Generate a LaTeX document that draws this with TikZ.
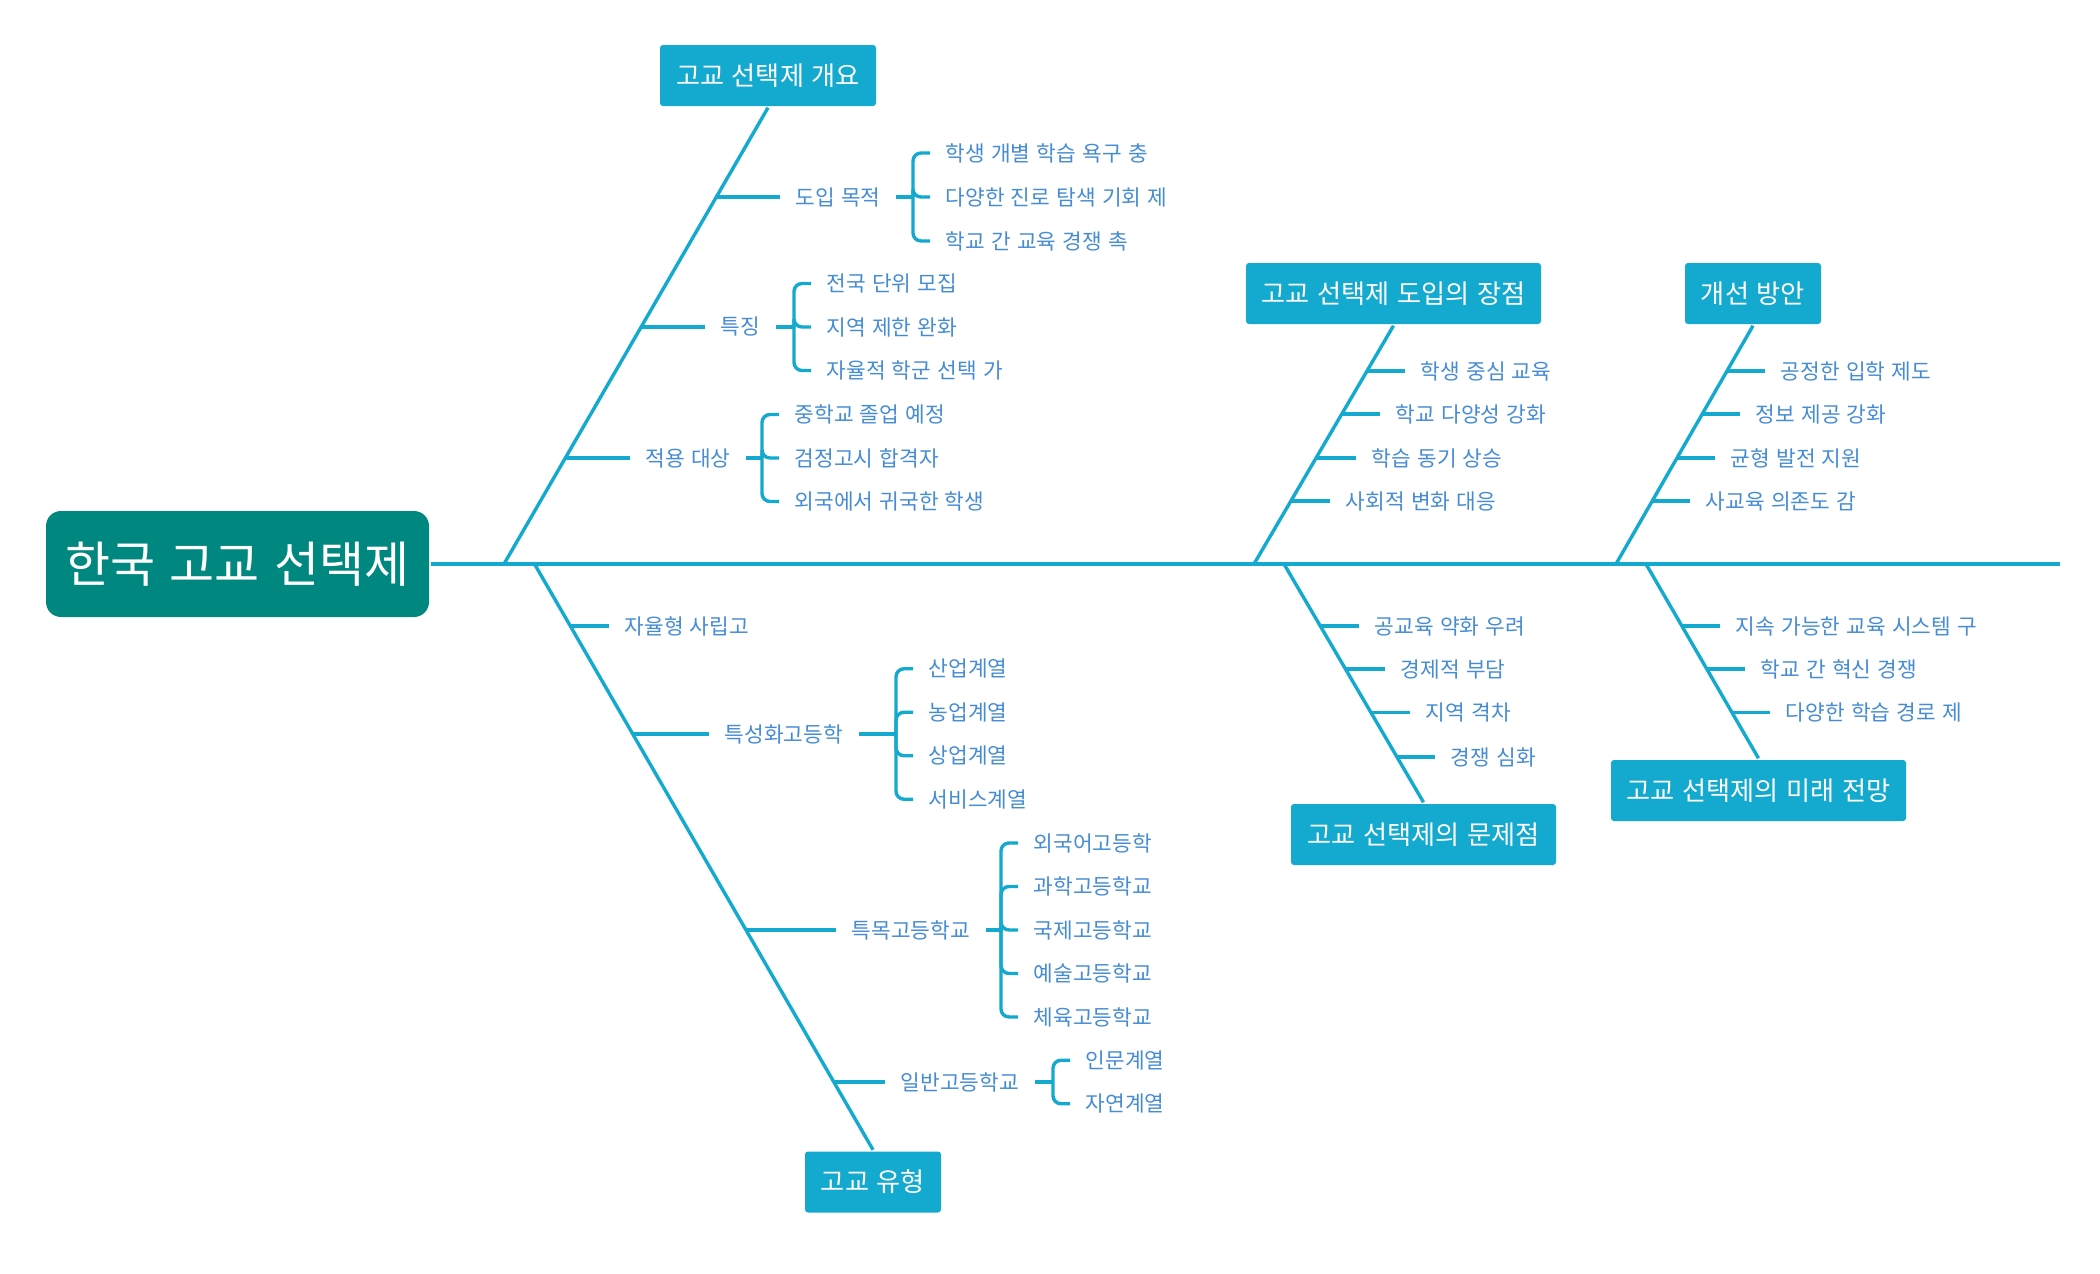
\documentclass[tikz,border=0pt]{standalone}
\usepackage{fontspec}
\setmainfont[WordSpace=1.3]{Noto Sans CJK KR}
\usetikzlibrary{positioning}

\definecolor{rootteal}{RGB}{0,136,128}
\definecolor{boneblue}{RGB}{20,169,206}
\definecolor{leafblue}{RGB}{70,140,212}

\tikzset{every picture/.style={line width=1.7pt}}
\tikzset{
  rootbox/.style={fill=rootteal, text=white, rounded corners=7.5pt, minimum width=191.5pt, minimum height=53pt, inner sep=0pt, font=\fontsize{24.5}{29}\selectfont},
  catbox/.style={fill=boneblue, text=white, rounded corners=1.5pt, minimum height=30.5pt, inner sep=0pt, font=\fontsize{13.1}{15}\selectfont},
  leaf/.style={text=leafblue, anchor=west, inner xsep=7pt, inner ysep=2pt, font=\fontsize{10.7}{12}\selectfont},
  bone/.style={draw=boneblue},
  brace/.style={draw=boneblue, rounded corners=4pt},
}

\begin{document}
\begin{tikzpicture}[x=0.5pt,y=0.5pt,yscale=-1]
	\useasboundingbox (0,0) rectangle (2100,1274);

	%Shape: Root
	\node[rootbox] (root) at (237.5,564) {한국 고교 선택제};
	\coordinate (tail) at (2060,564);
	%Straight Lines: spine
	\draw[bone] (root.east) -- (tail);

	%Shape: category boxes
	\node[catbox, minimum width=108pt] (gaeyo) at (768,75.5) {고교 선택제 개요};
	\node[catbox, minimum width=147.5pt] (jangjeom) at (1393.5,293.5) {고교 선택제 도입의 장점};
	\node[catbox, minimum width=68pt] (gaeseon) at (1753,293.5) {개선 방안};
	\node[catbox, minimum width=68pt] (yuhyeong) at (873,1182) {고교 유형};
	\node[catbox, minimum width=132.5pt] (munje) at (1423.5,834.5) {고교 선택제의 문제점};
	\node[catbox, minimum width=147.5pt] (jeonmang) at (1758.5,790.5) {고교 선택제의 미래 전망};

	%Straight Lines: bones
	\coordinate (s1) at (504,564);
	\coordinate (s2) at (1254,564);
	\coordinate (s3) at (1616,564);
	\coordinate (s4) at (534.5,564);
	\coordinate (s5) at (1284,564);
	\coordinate (s6) at (1646,564);
	\draw[bone] (s1) -- (gaeyo.south);
	\draw[bone] (s2) -- (jangjeom.south);
	\draw[bone] (s3) -- (gaeseon.south);
	\draw[bone] (s4) -- (yuhyeong.north);
	\draw[bone] (s5) -- (munje.north);
	\draw[bone] (s6) -- (jeonmang.north);

	% 고교 선택제 개요
	\coordinate (b1a) at (714.7,197);
	\coordinate (b1b) at (640,327);
	\coordinate (b1c) at (565,458);
	\node[leaf] (mokjeok) at (780,197) {도입 목적};
	\node[leaf] (teukjing) at (705,327) {특징};
	\node[leaf] (daesang) at (630,458) {적용 대상};
	\draw[bone] (b1a) -- (mokjeok.west);
	\draw[bone] (b1b) -- (teukjing.west);
	\draw[bone] (b1c) -- (daesang.west);

	\coordinate (mokjeok-j) at (913,197);
	\node[leaf] (mokjeok1) at (930,153) {학생 개별 학습 욕구 충};
	\node[leaf] (mokjeok2) at (930,197) {다양한 진로 탐색 기회 제};
	\node[leaf] (mokjeok3) at (930,241) {학교 간 교육 경쟁 촉};
	\draw[bone] (mokjeok.east) -- (mokjeok-j);
	\draw[brace] (mokjeok-j) |- (mokjeok1.west);
	\draw[brace] (mokjeok-j) |- (mokjeok2.west);
	\draw[brace] (mokjeok-j) |- (mokjeok3.west);

	\coordinate (teukjing-j) at (794,327);
	\node[leaf] (teukjing1) at (811,283.5) {전국 단위 모집};
	\node[leaf] (teukjing2) at (811,327) {지역 제한 완화};
	\node[leaf] (teukjing3) at (811,370.5) {자율적 학군 선택 가};
	\draw[bone] (teukjing.east) -- (teukjing-j);
	\draw[brace] (teukjing-j) |- (teukjing1.west);
	\draw[brace] (teukjing-j) |- (teukjing2.west);
	\draw[brace] (teukjing-j) |- (teukjing3.west);

	\coordinate (daesang-j) at (762,458);
	\node[leaf] (daesang1) at (779,414.5) {중학교 졸업 예정};
	\node[leaf] (daesang2) at (779,458) {검정고시 합격자};
	\node[leaf] (daesang3) at (779,501.5) {외국에서 귀국한 학생};
	\draw[bone] (daesang.east) -- (daesang-j);
	\draw[brace] (daesang-j) |- (daesang1.west);
	\draw[brace] (daesang-j) |- (daesang2.west);
	\draw[brace] (daesang-j) |- (daesang3.west);

	% 고교 선택제 도입의 장점
	\coordinate (b2a) at (1366.2,371);
	\coordinate (b2b) at (1341.2,414);
	\coordinate (b2c) at (1315.6,458);
	\coordinate (b2d) at (1290.6,501);
	\node[leaf] (jang1) at (1405,371) {학생 중심 교육};
	\node[leaf] (jang2) at (1380,414) {학교 다양성 강화};
	\node[leaf] (jang3) at (1356,458) {학습 동기 상승};
	\node[leaf] (jang4) at (1330,501) {사회적 변화 대응};
	\draw[bone] (b2a) -- (jang1.west);
	\draw[bone] (b2b) -- (jang2.west);
	\draw[bone] (b2c) -- (jang3.west);
	\draw[bone] (b2d) -- (jang4.west);

	% 개선 방안
	\coordinate (b3a) at (1726.2,371);
	\coordinate (b3b) at (1701.6,414);
	\coordinate (b3c) at (1676.5,458);
	\coordinate (b3d) at (1652,501);
	\node[leaf] (gae1) at (1765,371) {공정한 입학 제도};
	\node[leaf] (gae2) at (1740,414) {정보 제공 강화};
	\node[leaf] (gae3) at (1715,458) {균형 발전 지원};
	\node[leaf] (gae4) at (1690,501) {사교육 의존도 감};
	\draw[bone] (b3a) -- (gae1.west);
	\draw[bone] (b3b) -- (gae2.west);
	\draw[bone] (b3c) -- (gae3.west);
	\draw[bone] (b3d) -- (gae4.west);

	% 고교 유형
	\coordinate (b4a) at (570.2,626);
	\coordinate (b4b) at (632.4,734);
	\coordinate (b4c) at (745.2,930);
	\coordinate (b4d) at (832.7,1082);
	\node[leaf] (jayul) at (609,626) {자율형 사립고};
	\node[leaf] (teuksung) at (709,734) {특성화고등학};
	\node[leaf] (teukmok) at (836,930) {특목고등학교};
	\node[leaf] (ilban) at (885,1082) {일반고등학교};
	\draw[bone] (b4a) -- (jayul.west);
	\draw[bone] (b4b) -- (teuksung.west);
	\draw[bone] (b4c) -- (teukmok.west);
	\draw[bone] (b4d) -- (ilban.west);

	\coordinate (teuksung-j) at (896,734);
	\node[leaf] (teuksung1) at (913,668.75) {산업계열};
	\node[leaf] (teuksung2) at (913,712.25) {농업계열};
	\node[leaf] (teuksung3) at (913,755.75) {상업계열};
	\node[leaf] (teuksung4) at (913,799.25) {서비스계열};
	\draw[bone] (teuksung.east) -- (teuksung-j);
	\draw[brace] (teuksung-j) |- (teuksung1.west);
	\draw[brace] (teuksung-j) |- (teuksung2.west);
	\draw[brace] (teuksung-j) |- (teuksung3.west);
	\draw[brace] (teuksung-j) |- (teuksung4.west);

	\coordinate (teukmok-j) at (1001,930);
	\node[leaf] (teukmok1) at (1018,843) {외국어고등학};
	\node[leaf] (teukmok2) at (1018,886.5) {과학고등학교};
	\node[leaf] (teukmok3) at (1018,930) {국제고등학교};
	\node[leaf] (teukmok4) at (1018,973.5) {예술고등학교};
	\node[leaf] (teukmok5) at (1018,1017) {체육고등학교};
	\draw[bone] (teukmok.east) -- (teukmok-j);
	\draw[brace] (teukmok-j) |- (teukmok1.west);
	\draw[brace] (teukmok-j) |- (teukmok2.west);
	\draw[brace] (teukmok-j) |- (teukmok3.west);
	\draw[brace] (teukmok-j) |- (teukmok4.west);
	\draw[brace] (teukmok-j) |- (teukmok5.west);

	\coordinate (ilban-j) at (1053,1082);
	\node[leaf] (ilban1) at (1070,1060.25) {인문계열};
	\node[leaf] (ilban2) at (1070,1103.75) {자연계열};
	\draw[bone] (ilban.east) -- (ilban-j);
	\draw[brace] (ilban-j) |- (ilban1.west);
	\draw[brace] (ilban-j) |- (ilban2.west);

	% 고교 선택제의 문제점
	\coordinate (b5a) at (1320,626);
	\coordinate (b5b) at (1345,669);
	\coordinate (b5c) at (1370.3,712.5);
	\coordinate (b5d) at (1396.2,757);
	\node[leaf] (munje1) at (1359,626) {공교육 약화 우려};
	\node[leaf] (munje2) at (1385,669) {경제적 부담};
	\node[leaf] (munje3) at (1410,712.5) {지역 격차};
	\node[leaf] (munje4) at (1435,757) {경쟁 심화};
	\draw[bone] (b5a) -- (munje1.west);
	\draw[bone] (b5b) -- (munje2.west);
	\draw[bone] (b5c) -- (munje3.west);
	\draw[bone] (b5d) -- (munje4.west);

	% 고교 선택제의 미래 전망
	\coordinate (b6a) at (1681.6,626);
	\coordinate (b6b) at (1706.3,669);
	\coordinate (b6c) at (1731.2,712.5);
	\node[leaf] (jeon1) at (1720,626) {지속 가능한 교육 시스템 구};
	\node[leaf] (jeon2) at (1745,669) {학교 간 혁신 경쟁};
	\node[leaf] (jeon3) at (1770,712.5) {다양한 학습 경로 제};
	\draw[bone] (b6a) -- (jeon1.west);
	\draw[bone] (b6b) -- (jeon2.west);
	\draw[bone] (b6c) -- (jeon3.west);

\end{tikzpicture}
\end{document}
